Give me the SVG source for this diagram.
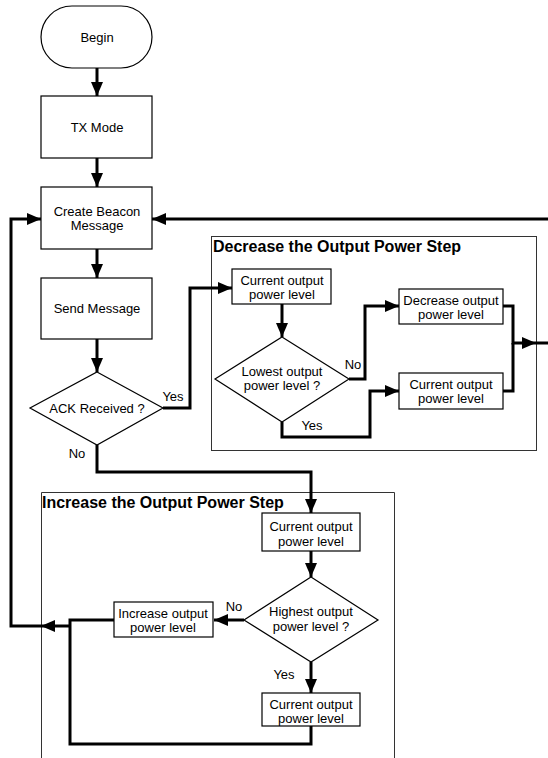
<svg xmlns="http://www.w3.org/2000/svg" width="548" height="758" viewBox="0 0 548 758">
<defs>
<marker id="ah" markerUnits="userSpaceOnUse" markerWidth="14" markerHeight="12" refX="14" refY="6" orient="auto">
<path d="M0,0 L14,6 L0,12 z" fill="#000"/>
</marker>
<style>
.n{fill:#fff;stroke:#000;stroke-width:1.2}
.g{fill:none;stroke:#333;stroke-width:1}
.t{font-family:"Liberation Sans",Arial,sans-serif;font-size:13px;fill:#000;text-anchor:middle}
.l{font-family:"Liberation Sans",Arial,sans-serif;font-size:13px;fill:#000;text-anchor:middle}
.h{font-family:"Liberation Sans",Arial,sans-serif;font-size:16px;font-weight:bold;fill:#000}
.c{fill:none;stroke:#000;stroke-width:3}
.a{marker-end:url(#ah)}
</style>
</defs>
<rect width="548" height="758" fill="#fff"/>
<g id="grp-decrease">
<rect class="g" x="211.5" y="236.5" width="325" height="214"/>
<text class="h" x="213" y="252">Decrease the Output Power Step</text>
</g>
<g id="grp-increase">
<path class="g" d="M41.5,770 V492.5 H394.5 V770"/>
<text class="h" x="42" y="508">Increase the Output Power Step</text>
</g>
<g id="connectors">
<path class="c a" d="M97,68 V96"/>
<path class="c a" d="M97,158 V187"/>
<path class="c a" d="M97,249 V278"/>
<path class="c a" d="M97,339 V372"/>
<path class="c a" d="M163,408 H190 V288 H232"/>
<path class="c a" d="M282,304 V337"/>
<path class="c a" d="M349,379 H365 V306 H399"/>
<path class="c a" d="M282,422 V437 H370 V391 H399"/>
<path class="c a" d="M503,306 H513 V343 H536"/>
<path class="c" d="M503,391 H513 V343"/>
<path class="c a" d="M536,343 H560 V219 H152"/>
<path class="c a" d="M97,445 V472 H311 V513"/>
<path class="c a" d="M311,551 V577"/>
<path class="c a" d="M244,620 H214"/>
<path class="c a" d="M311,662 V693"/>
<path class="c" d="M114,620 H70 V744 H311 V726"/>
<path class="c a" d="M70,626 H41"/>
<path class="c a" d="M41,626 H11 V219 H41"/>
<text class="l" x="173" y="401">Yes</text>
<text class="l" x="77" y="458">No</text>
<text class="l" x="353" y="369">No</text>
<text class="l" x="312" y="430">Yes</text>
<text class="l" x="234" y="611">No</text>
<text class="l" x="284" y="679">Yes</text>
</g>
<g id="begin">
<rect class="n" x="41" y="6" width="111" height="62" rx="31"/>
<text class="t" x="97" y="42">Begin</text>
</g>
<g id="tx-mode">
<rect class="n" x="41" y="96" width="111" height="62"/>
<text class="t" x="97" y="132">TX Mode</text>
</g>
<g id="create-beacon">
<rect class="n" x="41" y="187" width="111" height="62"/>
<text class="t" x="97" y="216">Create Beacon</text>
<text class="t" x="97" y="230">Message</text>
</g>
<g id="send-message">
<rect class="n" x="41" y="278" width="111" height="61"/>
<text class="t" x="97" y="313">Send Message</text>
</g>
<g id="ack">
<polygon class="n" points="97,372 163,408 97,445 30,408"/>
<text class="t" x="97" y="413">ACK Received ?</text>
</g>
<g id="dec-current">
<rect class="n" x="232" y="269" width="99" height="35"/>
<text class="t" x="282" y="285">Current output</text>
<text class="t" x="282" y="299">power level</text>
</g>
<g id="lowest">
<polygon class="n" points="282,337 349,379 282,422 215,379"/>
<text class="t" x="282" y="376">Lowest output</text>
<text class="t" x="282" y="390">power level ?</text>
</g>
<g id="decrease">
<rect class="n" x="399" y="289" width="104" height="35"/>
<text class="t" x="451" y="305">Decrease output</text>
<text class="t" x="451" y="319">power level</text>
</g>
<g id="dec-current2">
<rect class="n" x="399" y="373" width="104" height="36"/>
<text class="t" x="451" y="389">Current output</text>
<text class="t" x="451" y="403">power level</text>
</g>
<g id="inc-current">
<rect class="n" x="262" y="513" width="98" height="38"/>
<text class="t" x="311" y="531">Current output</text>
<text class="t" x="311" y="546">power level</text>
</g>
<g id="highest">
<polygon class="n" points="311,577 378,620 311,662 244,620"/>
<text class="t" x="311" y="616">Highest output</text>
<text class="t" x="311" y="631">power level ?</text>
</g>
<g id="increase">
<rect class="n" x="114" y="602" width="99" height="35"/>
<text class="t" x="163" y="618">Increase output</text>
<text class="t" x="163" y="632">power level</text>
</g>
<g id="inc-current2">
<rect class="n" x="262" y="693" width="98" height="33"/>
<text class="t" x="311" y="709">Current output</text>
<text class="t" x="311" y="723">power level</text>
</g>
</svg>
